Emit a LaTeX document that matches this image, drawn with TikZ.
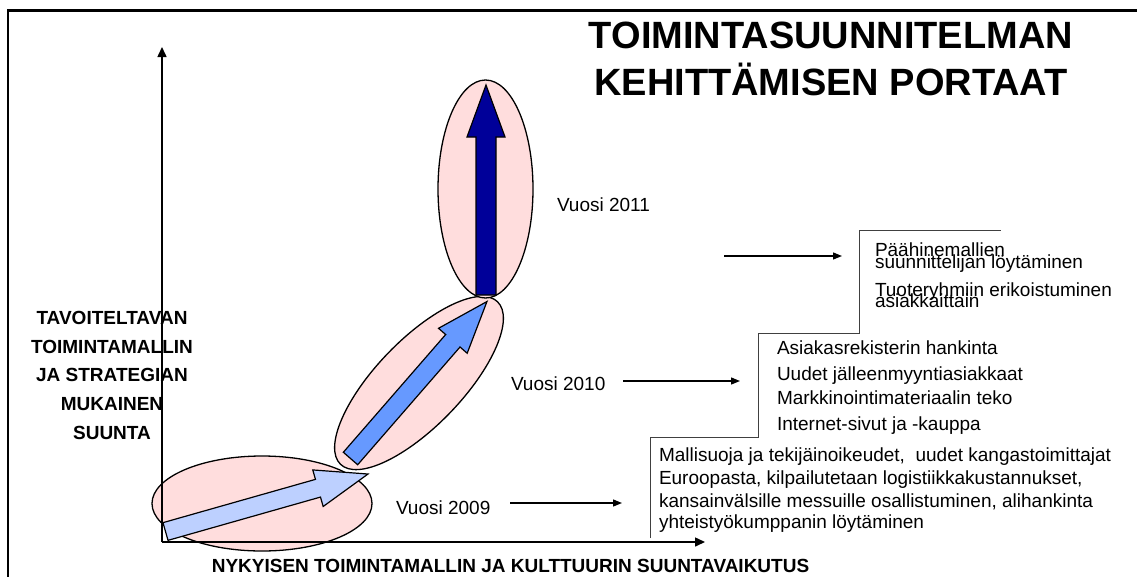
\documentclass[tikz,border=0pt]{standalone}
\usepackage{fontspec}
\setmainfont{Liberation Sans}
\usetikzlibrary{arrows.meta}
\definecolor{ellpink}{HTML}{FFDDDD}
\definecolor{arrlight}{HTML}{BDD0FF}
\definecolor{arrmid}{HTML}{6699FF}
\definecolor{arrdark}{HTML}{000099}
\newcommand{\blkarrow}[5]{%
  \begin{scope}[shift={(#1)},rotate=#2]
    \pgfmathsetmacro{\hb}{#4-52}
    \draw[blockarr, fill=#3] (0,-#5) -- (\hb,-#5) -- (\hb,-19) -- (#4,0) -- (\hb,19) -- (\hb,#5) -- (0,#5) -- cycle;
  \end{scope}}
\begin{document}
\begin{tikzpicture}[x=1pt,y=-1pt,
  txt/.style={inner sep=0pt, outer sep=0pt, font=\fontsize{19}{19}\selectfont, anchor=base west},
  boldtxt/.style={inner sep=0pt, outer sep=0pt, font=\fontsize{19}{19}\selectfont\bfseries, anchor=base},
  titletxt/.style={inner sep=0pt, outer sep=0pt, font=\fontsize{38}{38}\selectfont\bfseries, anchor=base},
  ell/.style={draw=black, line width=1.3pt, fill=ellpink},
  blockarr/.style={draw=black, line width=1.2pt, line join=miter},
  axis/.style={draw=black, line width=1.5pt, -{Triangle[length=10pt,width=9pt]}},
  thinarr/.style={draw=black, line width=1.3pt, -{Triangle[length=9pt,width=7pt]}},
  stair/.style={draw=black!75, line width=1pt}]
\useasboundingbox (0,0) rectangle (1137,576);
\fill[white] (0,0) rectangle (1137,576);

% frame
\draw[line width=2.5pt] (8,600) -- (8,10.5) -- (1160,10.5);

% title
\node[titletxt] (title1) at (831,48) {TOIMINTASUUNNITELMAN};
\node[titletxt] (title2) at (831,95) {KEHITTÄMISEN PORTAAT};

% ellipses
\draw[ell] (262,503.5) ellipse [x radius=110, y radius=47.5];
\draw[ell, rotate around={46:(419,383)}] (419,383) ellipse [x radius=113, y radius=43];
\draw[ell] (485.5,189) ellipse [x radius=47.5, y radius=109];

% axes
\coordinate (origin) at (162,542);
\coordinate (ytip) at (162,47);
\coordinate (xtip) at (705,542);
\draw[axis] (origin) -- (ytip);
\draw[axis] (origin) -- (xtip);

% block arrows
\blkarrow{165.5,531.5}{15.85}{arrlight}{210.5}{9.2}
\blkarrow{350.5,458.5}{49}{arrmid}{208}{9.5}
\blkarrow{486,295}{90}{arrdark}{210}{10}

% axis labels
\node[boldtxt] (yl1) at (112,324) {TAVOITELTAVAN};
\node[boldtxt] (yl2) at (112,353) {TOIMINTAMALLIN};
\node[boldtxt] (yl3) at (112,381) {JA STRATEGIAN};
\node[boldtxt] (yl4) at (112,410) {MUKAINEN};
\node[boldtxt] (yl5) at (112,439) {SUUNTA};
\node[boldtxt] (xl) at (510.5,572) {NYKYISEN TOIMINTAMALLIN JA KULTTUURIN SUUNTAVAIKUTUS};

% year labels
\node[txt] (v2011) at (557,211) {Vuosi 2011};
\node[txt] (v2010) at (511,390) {Vuosi 2010};
\node[txt] (v2009) at (396,514) {Vuosi 2009};

% stairs
\draw[stair] (650,538) -- (650,437) -- (758,437) -- (758,333) -- (859,333) -- (859,230) -- (1001,230);

% thin arrows
\coordinate (a11s) at (724,256);
\coordinate (a11e) at (842,256);
\coordinate (a10s) at (623,381);
\coordinate (a10e) at (740,381);
\coordinate (a09s) at (510,503);
\coordinate (a09e) at (622,503);
\draw[thinarr] (a11s) -- (a11e);
\draw[thinarr] (a10s) -- (a10e);
\draw[thinarr] (a09s) -- (a09e);

% step texts, 2011
\node[txt] (s3a) at (875,256) {Päähinemallien};
\node[txt] (s3b) at (875,268) {suunnittelijan löytäminen};
\node[txt] (s3c) at (875,296) {Tuoteryhmiin erikoistuminen};
\node[txt] (s3d) at (875,307) {asiakkaittain};
% 2010
\node[txt] (s2a) at (777,354) {Asiakasrekisterin hankinta};
\node[txt] (s2b) at (777,380) {Uudet jälleenmyyntiasiakkaat};
\node[txt] (s2c) at (777,404) {Markkinointimateriaalin teko};
\node[txt] (s2d) at (777,430) {Internet-sivut ja -kauppa};
% 2009
\node[txt] (s1a) at (659,461) {Mallisuoja ja tekijäinoikeudet,\ \ uudet kangastoimittajat};
\node[txt] (s1b) at (659,484) {Euroopasta, kilpailutetaan logistiikkakustannukset,};
\node[txt] (s1c) at (659,507) {kansainvälsille messuille osallistuminen, alihankinta};
\node[txt] (s1d) at (659,528) {yhteistyökumppanin löytäminen};
\end{tikzpicture}
\end{document}
